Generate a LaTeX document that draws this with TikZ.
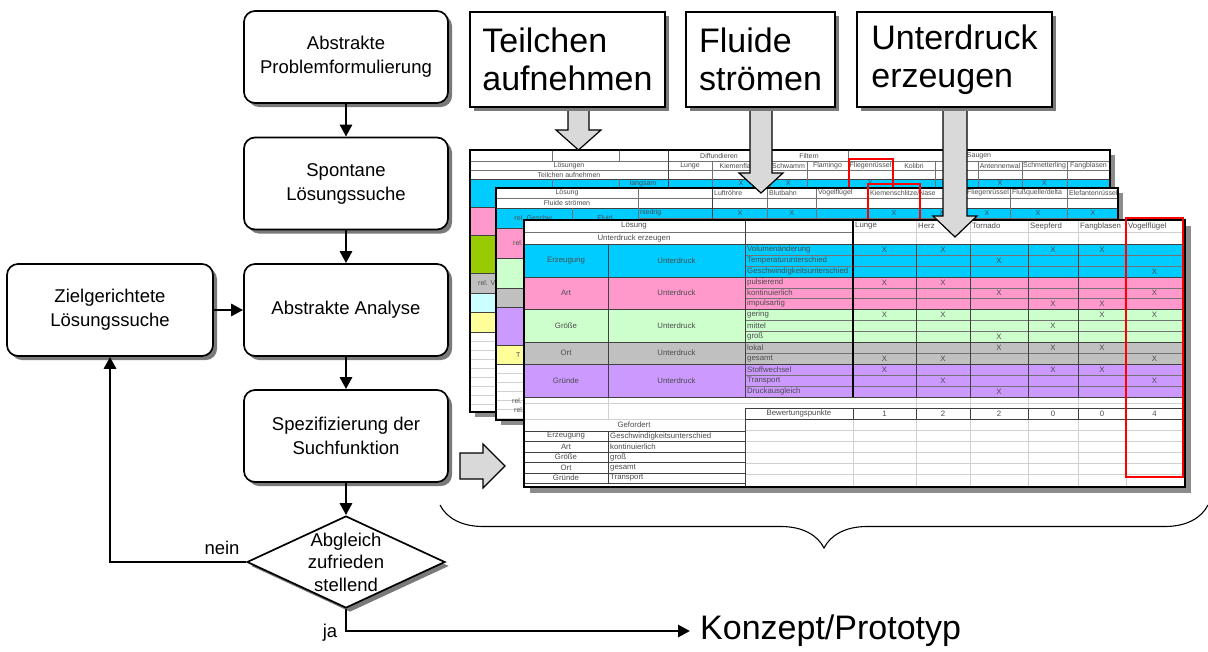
\documentclass[tikz,border=0pt]{standalone}
\usepackage{fontspec}
\setmainfont{Liberation Sans}
\usetikzlibrary{shapes.geometric,arrows.meta,decorations.pathreplacing,shadows}

\definecolor{bandcyan}{HTML}{00CCFF}
\definecolor{bandpink}{HTML}{FF99CC}
\definecolor{bandmint}{HTML}{CCFFCC}
\definecolor{bandgray}{HTML}{C0C0C0}
\definecolor{bandlila}{HTML}{CC99FF}
\definecolor{bandlime}{HTML}{99CC00}
\definecolor{bandice}{HTML}{CCFFFF}
\definecolor{bandsand}{HTML}{FFFF99}
\definecolor{shadowgray}{HTML}{7A7A7A}
\definecolor{sheetshade}{HTML}{8C8C8C}
\definecolor{arrowfill}{HTML}{D9D9D9}
\definecolor{markred}{HTML}{FF0000}

\tikzset{
  flowbox/.style={draw=black, line width=1.7pt, rounded corners=11pt, fill=white,
    align=center, font=\fontsize{18.5}{24}\selectfont, minimum width=204pt,
    minimum height=92pt, inner sep=0pt,
    drop shadow={shadow xshift=4pt, shadow yshift=-4pt, fill=shadowgray, opacity=1}},
  decision/.style={diamond, draw=black, line width=1.7pt, fill=white,
    minimum width=198pt, minimum height=92pt, inner sep=0pt,
    drop shadow={shadow xshift=4pt, shadow yshift=-4pt, fill=shadowgray, opacity=1}},
  flowtext/.style={align=center, font=\fontsize{18.5}{22.5}\selectfont, inner sep=0pt},
  bigtext/.style={font=\fontsize{34}{38}\selectfont, inner sep=0pt},
  labelbox/.style={draw=black, line width=1.5pt, fill=white, align=left,
    font=\fontsize{34}{38}\selectfont, minimum height=95pt, inner sep=0pt,
    drop shadow={shadow xshift=4pt, shadow yshift=-4pt, fill=shadowgray, opacity=1}},
  flow/.style={line width=2.8pt, -{Triangle[length=12pt,width=12pt]}},
  blockarrow/.style={draw=black, line width=1.2pt, fill=arrowfill, line join=miter},
  tc/.style={font=\fontsize{7.8}{8}\selectfont, text=black!70, inner sep=0pt},
  tcs/.style={font=\fontsize{7}{7.5}\selectfont, text=black!70, inner sep=0pt},
  gridthin/.style={draw=black!18, line width=0.5pt},
  cellrule/.style={draw=black!55, line width=0.6pt},
  bandrule/.style={draw=black!75, line width=0.9pt},
  sheetrim/.style={draw=black, line width=1.6pt},
  redframe/.style={draw=markred, line width=2pt},
}

\begin{document}
\begin{tikzpicture}[x=1pt,y=-1pt]
\useasboundingbox (0,0) rectangle (1208,651);

% ================= spreadsheet 1: Teilchen aufnehmen =================
\fill[sheetshade] (475,155) rectangle (1115,417);
\fill[white] (470,150) rectangle (1110,412);
\fill[bandcyan] (470,179) rectangle (1110,207);
\fill[bandpink] (470,207) rectangle (1110,235);
\fill[bandlime] (470,235) rectangle (1110,273);
\fill[bandgray] (470,273) rectangle (1110,293);
\fill[bandice]  (470,293) rectangle (1110,312);
\fill[bandsand] (470,312) rectangle (1110,332);
\foreach \y in {341,350,...,404} \draw[gridthin] (470,\y) -- (1110,\y);
\foreach \y in {161,170} \draw[cellrule] (470,\y) -- (1110,\y);
\foreach \y in {179,207,235,273,293,312,332} \draw[bandrule] (470,\y) -- (1110,\y);
\draw[cellrule] (619,188) -- (1110,188);
\foreach \x in {552,619} {\draw[cellrule] (\x,150) -- (\x,161); \draw[cellrule] (\x,179) -- (\x,412);}
\draw[bandrule] (668,150) -- (668,412);
\foreach \x in {712,807,893,935,978,1022,1067} \draw[cellrule] (\x,161) -- (\x,412);
\foreach \x in {770,848} \draw[cellrule] (\x,150) -- (\x,412);
\draw[sheetrim] (470,150) rectangle (1110,412);
\node[tcs] (s1a) at (719,155.5) {Diffundieren};
\node[tcs] (s1b) at (809,155.5) {Filtern};
\node[tcs] (s1c) at (979,155.5) {Saugen};
\node[tcs] (s1d) at (569,165.5) {Lösungen};
\node[tcs] (s1e) at (569,174.5) {Teilchen aufnehmen};
\foreach \t/\x [count=\i] in {Lunge/690,Kiemenflamm/741,Schwamm/788.5,Flamingo/827.5,
    Fliegenrüssel/870.5,Kolibri/914,Antennenwal/1000,Schmetterling/1044.5,Fangblasen/1088.5}
  \node[tcs] (s1h\i) at (\x,165.5) {\t};
\node[tcs] (s1f) at (643,183.5) {langsam};
\foreach \x [count=\i] in {741,788.5,870.5,1000,1044.5}
  \node[tcs] (s1x\i) at (\x,183.5) {X};
\node[tcs, anchor=west] (s1g) at (478,283) {rel. V};
\draw[redframe] (849,159) rectangle (893,192);

% ================= spreadsheet 2: Fluide strömen =================
\fill[sheetshade] (501,193) rectangle (1123,425);
\fill[white] (496,188) rectangle (1118,420);
\fill[bandcyan] (496,208) rectangle (1118,228);
\fill[bandpink] (496,228) rectangle (1118,258);
\fill[bandmint] (496,258) rectangle (1118,288);
\fill[bandgray] (496,288) rectangle (1118,307);
\fill[bandlila] (496,307) rectangle (1118,345);
\fill[bandsand] (496,345) rectangle (1118,364);
\foreach \y in {373,382,...,418} \draw[gridthin] (496,\y) -- (1118,\y);
\draw[cellrule] (496,198) -- (1118,198);
\foreach \y in {208,228,258,288,307,345,364} \draw[bandrule] (496,\y) -- (1118,\y);
\draw[cellrule] (638,218) -- (1118,218);
\draw[cellrule] (572,208) -- (572,420);
\draw[cellrule] (638,188) -- (638,420);
\draw[bandrule] (712,188) -- (712,420);
\foreach \x in {767,816,868,920,965,1010,1067} \draw[cellrule] (\x,188) -- (\x,420);
\draw[sheetrim] (496,188) rectangle (1118,420);
\node[tcs] (s2a) at (567,193) {Lösung};
\node[tcs] (s2b) at (567,203) {Fluide strömen};
\foreach \t/\x [count=\i] in {Luftröhre/714,Blutbahn/769,Vogelflügel/818,{Kiemenschlitze/Nase}/870,
    Fliegenrüssel/967,{Flußquelle/delta}/1012,Elefantenrüssel/1069}
  \node[tcs, anchor=west] (s2h\i) at (\x,193) {\t};
\node[tcs] (s2c) at (534,218) {rel. Geschw.};
\node[tcs] (s2d) at (605,218) {Fluid};
\node[tcs, anchor=west] (s2e) at (640,213) {niedrig};
\foreach \x [count=\i] in {740,792,894,942,987,1038,1093}
  \node[tcs] (s2x\i) at (\x,213) {X};
\node[tcs, anchor=west] (s2f) at (513,243) {rel.};
\node[tcs, anchor=west] (s2g) at (516,355) {T};
\node[tcs, anchor=west] (s2h) at (512,401) {rel.};
\node[tcs, anchor=west] (s2i) at (514,410) {rel.};
\draw[redframe] (868,184) rectangle (920,224);

% ================= spreadsheet 3: Unterdruck erzeugen =================
\fill[sheetshade] (530,226) rectangle (1191,493);
\fill[white] (524,220) rectangle (1185,487);
\fill[bandcyan] (524,244) rectangle (1185,277);
\fill[bandpink] (524,277) rectangle (1185,309);
\fill[bandmint] (524,309) rectangle (1185,342);
\fill[bandgray] (524,342) rectangle (1185,364);
\fill[bandlila] (524,364) rectangle (1185,397);
% header and grid
\draw[gridthin] (524,232) -- (1185,232);
\draw[cellrule] (524,232) -- (853,232);
\foreach \x in {916,970,1028,1078,1126} \draw[gridthin] (\x,220) -- (\x,487);
\foreach \y in {430,441,452,463,474} \draw[gridthin] (745,\y) -- (1185,\y);
\draw[gridthin] (524,403) -- (1185,403);
\draw[gridthin] (608,397) -- (608,419);
\draw[gridthin] (853,419) -- (853,487);
% rows of the coloured blocks
\foreach \y in {255,266,288,298,320,331,353,375,386} \draw[cellrule] (745,\y) -- (1185,\y);
\foreach \y in {244,277,309,342,364,397} \draw[bandrule] (524,\y) -- (1185,\y);
\draw[bandrule] (608,244) -- (608,397);
\draw[bandrule] (745,220) -- (745,397);
\foreach \x in {916,970,1028,1078,1126} \draw[bandrule] (\x,244) -- (\x,397);
\draw[line width=1.4pt] (853,220) -- (853,397);
% rating row
\draw[bandrule] (745,408) -- (1185,408);
\draw[bandrule] (745,419) -- (1185,419);
\foreach \x in {853,916,970,1028,1078,1126} \draw[bandrule] (\x,408) -- (\x,419);
\draw[bandrule] (745,408) -- (745,487);
% required-values table
\draw[gridthin] (524,419) -- (745,419);
\foreach \y in {431,441.5,452,462.5,473,483.5} \draw[bandrule] (524,\y) -- (745,\y);
\draw[bandrule] (608,431) -- (608,483.5);
\draw[sheetrim] (524,220) rectangle (1185,487);
% texts
\node[tc] (s3a) at (634,226) {Lösung};
\node[tc] (s3b) at (634,238) {Unterdruck erzeugen};
\foreach \t/\x [count=\i] in {Lunge/855,Herz/918,Tornado/972,Seepferd/1030,Fangblasen/1080,Vogelflügel/1128}
  \node[tc, anchor=west] (s3h\i) at (\x,226) {\t};
\foreach \t/\y [count=\i] in {Erzeugung/260.5,Art/293,Größe/325.5,Ort/353,Gründe/380.5} {
  \node[tc] (s3k\i) at (566,\y) {\t};
  \node[tc] (s3u\i) at (676.5,\y) {Unterdruck};
}
\foreach \t [count=\i] in {Volumenänderung,Temperaturunterschied,Geschwindigkeitsunterschied,
    pulsierend,kontinuierlich,impulsartig,gering,mittel,groß,lokal,gesamt,
    Stoffwechsel,Transport,Druckausgleich} {
  \pgfmathsetmacro\yy{{249.5,260.5,271.5,282.5,293,303.5,314.5,325.5,336.5,347.5,358.5,369.5,380.5,391.5}[\i-1]}
  \node[tc, anchor=west] (s3m\i) at (747,\yy) {\t};
}
\foreach \c/\r [count=\k] in {1/1,2/1,4/1,5/1,3/2,6/3,1/4,2/4,3/5,6/5,4/6,5/6,
    1/7,2/7,5/7,6/7,4/8,3/9,3/10,4/10,5/10,1/11,2/11,6/11,1/12,4/12,5/12,2/13,6/13,3/14} {
  \pgfmathsetmacro\xx{{884.5,943,999,1053,1102,1154.5}[\c-1]}
  \pgfmathsetmacro\yy{{249.5,260.5,271.5,282.5,293,303.5,314.5,325.5,336.5,347.5,358.5,369.5,380.5,391.5}[\r-1]}
  \node[tc] (s3x\k) at (\xx,\yy) {X};
}
\node[tc] (s3c) at (799,413.5) {Bewertungspunkte};
\foreach \v/\x [count=\i] in {1/884.5,2/943,2/999,0/1053,0/1102,4/1154.5}
  \node[tc] (s3p\i) at (\x,413.5) {\v};
\node[tc] (s3d) at (634,425) {Gefordert};
\foreach \a/\b/\y [count=\i] in {Erzeugung/Geschwindigkeitsunterschied/436,Art/kontinuierlich/446.5,
    Größe/groß/457,Ort/gesamt/467.5,Gründe/Transport/478} {
  \node[tc] (s3g\i) at (566,\y) {\a};
  \node[tc, anchor=west] (s3w\i) at (610,\y) {\b};
}
\draw[redframe] (1126,218) rectangle (1183,477);

% ================= block arrows into the sheets =================
\draw[blockarrow] (568,105) -- (589,105) -- (589,130) -- (601,130) -- (578.5,150) -- (556,130) -- (568,130) -- cycle;
\draw[blockarrow] (750,105) -- (772,105) -- (772,173) -- (783,173) -- (761,193) -- (739,173) -- (750,173) -- cycle;
\draw[blockarrow] (943,105) -- (967,105) -- (967,216) -- (977,216) -- (955,237) -- (933,216) -- (943,216) -- cycle;
\draw[blockarrow] (460,453) -- (483,453) -- (483,444) -- (505,466) -- (483,488) -- (483,479) -- (460,479) -- cycle;

% ================= function labels =================
\node[labelbox, minimum width=195pt] (lt) at (567.5,59.5) {Teilchen\\aufnehmen};
\node[labelbox, minimum width=149pt] (lf) at (760.5,59.5) {Fluide\\strömen};
\node[labelbox, minimum width=195pt] (lu) at (954.5,59.5) {Unterdruck\\erzeugen};

% ================= brace under the sheets =================
\draw[line width=1.1pt, decorate, decoration={brace, mirror, amplitude=43pt}] (440,505) -- (1208,505);

% ================= flow chart =================
\node[flowbox] (p1) at (346,57) {Abstrakte\\Problemformulierung};
\node[flowbox] (p2) at (346,183.5) {Spontane\\Lösungssuche};
\node[flowbox] (p3) at (346,310) {Abstrakte Analyse};
\node[flowbox] (p4) at (346,436) {Spezifizierung der\\Suchfunktion};
\node[flowbox, minimum width=206pt] (zl) at (110,310) {Zielgerichtete\\Lösungssuche};
\node[decision] (dia) at (346,562) {};
\node[flowtext] (diat) at (346,562) {Abgleich\\zufrieden\\stellend};
\node[bigtext, anchor=west, inner xsep=10pt] (konz) at (690,631) {Konzept/Prototyp};
\node[flowtext] (nein) at (222,548) {nein};
\node[flowtext] (ja) at (330,633) {ja};

\draw[flow] (p1) -- (p2);
\draw[flow] (p2) -- (p3);
\draw[flow] (p3) -- (p4);
\draw[flow] (p4) -- (dia);
\draw[flow] (zl) -- (p3);
\draw[flow] (dia.west) -| (zl.south);
\draw[flow] (dia.south) |- (konz.west);
\end{tikzpicture}
\end{document}
